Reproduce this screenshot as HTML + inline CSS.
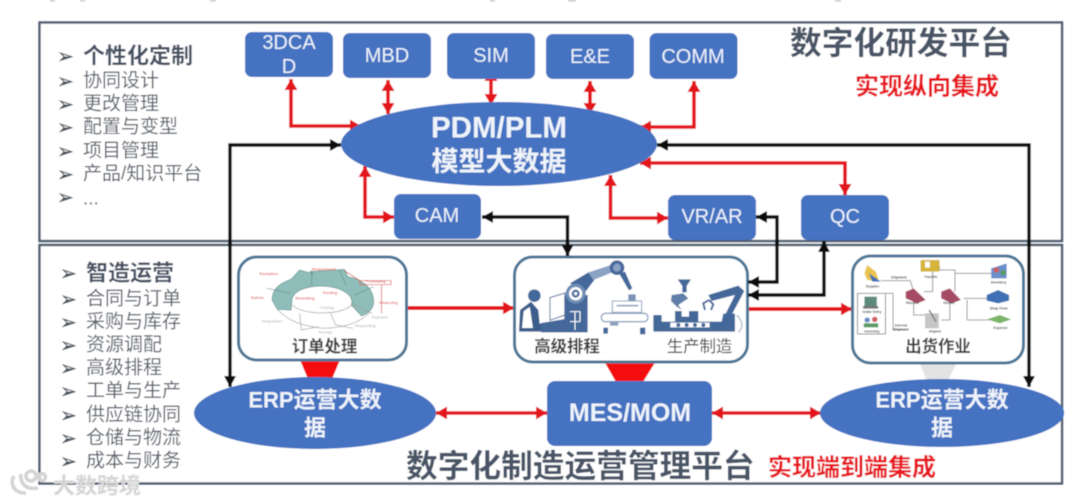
<!DOCTYPE html>
<html lang="zh">
<head>
<meta charset="utf-8">
<title>数字化研发平台与数字化制造运营管理平台</title>
<style>
html,body{margin:0;padding:0;background:#fff;width:1080px;height:504px;overflow:hidden}
svg{display:block;position:absolute;left:0;top:0}
text{font-family:"Liberation Sans","Noto Sans CJK SC",sans-serif;dominant-baseline:central;transform:translateY(1px)}
.m{text-anchor:middle}
.n{font-size:20px;fill:#eaf1fa;text-anchor:middle}
.b{font-weight:700}
.li{font-size:19px;fill:#5a616b}
.h{font-size:22px;font-weight:700;fill:#465163}
.bu{font-family:"DejaVu Sans",sans-serif;font-size:20px;fill:#4c535d;stroke:#4c535d;stroke-width:.4}
.t{font-size:31.7px;font-weight:700;fill:#495466}
.r{font-size:24px;font-weight:700;fill:#e8141c}
.p{font-size:16.4px;font-weight:700;fill:#3d3d3d;text-anchor:middle}
.w{font-weight:700;fill:#eef3fa;text-anchor:middle}
.re{fill:none;stroke:#e3141c;stroke-width:3.6;marker-start:url(#ra);marker-end:url(#ra)}
.ro{fill:none;stroke:#e3141c;stroke-width:4;marker-end:url(#ra)}
.bk{fill:none;stroke:#0c0c0c;stroke-width:3.4;marker-start:url(#ba);marker-end:url(#ba)}
.tiny{font-size:10px;font-weight:700;fill:#444;text-anchor:middle}
.tr{font-size:12px;fill:#d8342f;text-anchor:middle}
.tg{font-size:12px;fill:#aaa;text-anchor:middle}
</style>
</head>
<body>
<svg width="1080" height="504" viewBox="0 0 1080 504" xmlns="http://www.w3.org/2000/svg">
<defs>
<marker id="ra" markerUnits="userSpaceOnUse" markerWidth="14" markerHeight="14" refX="11" refY="7" orient="auto-start-reverse"><path d="M0 .5L11 7L0 13.5Z" fill="#e3141c"/></marker>
<marker id="ba" markerUnits="userSpaceOnUse" markerWidth="14" markerHeight="14" refX="11" refY="7" orient="auto-start-reverse"><path d="M0 1L11 7L0 13Z" fill="#0c0c0c"/></marker>
<filter id="soft" x="-2%" y="-2%" width="104%" height="104%"><feGaussianBlur stdDeviation=".45"/></filter>
</defs>
<g filter="url(#soft)">
<!-- faint clipped text at the top -->
<g fill="#c9c9c9"><rect x="50" y="0" width="5" height="1.5"/><rect x="80" y="0" width="5" height="1.5"/><rect x="210" y="0" width="6" height="1.5"/><rect x="490" y="0" width="5" height="1.5"/><rect x="568" y="0" width="8" height="1.5"/><rect x="835" y="0" width="6" height="1.5"/></g>

<!-- frames -->
<rect x="39.5" y="22.5" width="1022.5" height="218.5" fill="#fff" stroke="#505d70" stroke-width="2.4"/>
<rect x="39.5" y="245" width="1022.5" height="238.5" fill="#fff" stroke="#505d70" stroke-width="2.4"/>

<!-- top list -->
<text class="bu" x="57" y="55">➢</text><text class="h" x="83" y="55">个性化定制</text>
<text class="bu" x="57" y="80">➢</text><text class="li" x="83" y="80">协同设计</text>
<text class="bu" x="57" y="103">➢</text><text class="li" x="83" y="103">更改管理</text>
<text class="bu" x="57" y="126">➢</text><text class="li" x="83" y="126">配置与变型</text>
<text class="bu" x="57" y="150">➢</text><text class="li" x="83" y="150">项目管理</text>
<text class="bu" x="57" y="173">➢</text><text class="li" x="83" y="173">产品/知识平台</text>
<text class="bu" x="57" y="196">➢</text><text class="li" x="83" y="198">...</text>

<!-- bottom list -->
<text class="bu" x="60" y="272">➢</text><text class="h" x="86" y="272">智造运营</text>
<text class="bu" x="60" y="298">➢</text><text class="li" x="86" y="298">合同与订单</text>
<text class="bu" x="60" y="321">➢</text><text class="li" x="86" y="321">采购与库存</text>
<text class="bu" x="60" y="344">➢</text><text class="li" x="86" y="344">资源调配</text>
<text class="bu" x="60" y="367">➢</text><text class="li" x="86" y="367">高级排程</text>
<text class="bu" x="60" y="390">➢</text><text class="li" x="86" y="390">工单与生产</text>
<text class="bu" x="60" y="414">➢</text><text class="li" x="86" y="414">供应链协同</text>
<text class="bu" x="60" y="437">➢</text><text class="li" x="86" y="437">仓储与物流</text>
<text class="bu" x="60" y="460">➢</text><text class="li" x="86" y="460">成本与财务</text>

<!-- titles -->
<text class="t" x="790" y="42">数字化研发平台</text>
<text class="r" x="855" y="86">实现纵向集成</text>
<text class="t" x="406" y="465">数字化制造运营管理平台</text>
<text class="r" x="768" y="467">实现端到端集成</text>

<!-- funnels -->
<polygon points="300,360 340,360 332,379 308,379" fill="#f40a0e"/>
<polygon points="604,361 656,361 643,382 616,382" fill="#f40a0e"/>
<polygon points="919,362 957,362 948,381 927,381" fill="#e3e3e3"/>

<!-- red connectors -->
<path class="re" d="M291 79V126H361"/>
<path class="re" d="M388 80V114"/>
<path class="re" d="M491 70V105"/>
<path class="re" d="M590 81V114"/>
<path class="re" d="M694 81V127H640"/>
<path class="re" d="M365 166V217H394"/>
<path class="re" d="M610.5 175V218H668"/>
<path class="re" d="M640 163H845V195"/>
<path class="ro" d="M407 308H514"/>
<path class="ro" d="M748 309H852"/>
<path class="re" d="M436 413H547"/>
<path class="re" d="M712 413H821"/>

<!-- nodes -->
<g fill="#4472c1">
<rect x="245" y="32" width="88" height="45" rx="7"/>
<rect x="343" y="33" width="88" height="45" rx="7"/>
<rect x="447" y="33" width="88" height="46" rx="7"/>
<rect x="546" y="34" width="88" height="45" rx="7"/>
<rect x="649.5" y="33" width="88" height="46" rx="7"/>
<rect x="394" y="194" width="87" height="45" rx="7"/>
<rect x="668" y="195" width="88" height="45" rx="7"/>
<rect x="801" y="195" width="88" height="45" rx="7"/>
<ellipse cx="499" cy="144" rx="158" ry="42"/>
<ellipse cx="315" cy="413" rx="121" ry="36"/>
<rect x="547" y="381" width="165" height="65" rx="8"/>
<ellipse cx="942" cy="413" rx="122" ry="34"/>
</g>
<text class="n" x="289" y="42">3DCA</text><text class="n" x="289" y="66">D</text>
<text class="n" x="387" y="55">MBD</text>
<text class="n" x="491" y="55">SIM</text>
<text class="n" x="590" y="56">E&amp;E</text>
<text class="n" x="693" y="56">COMM</text>
<text class="n" x="437" y="215">CAM</text>
<text class="n" x="712" y="216">VR/AR</text>
<text class="n" x="845" y="216">QC</text>
<text class="w" x="499" y="127" font-size="29.5">PDM/PLM</text>
<text class="w" x="499" y="161" font-size="27">模型大数据</text>
<text class="w" x="315" y="399" font-size="22">ERP运营大数</text>
<text class="w" x="315" y="427" font-size="22">据</text>
<text class="w" x="630" y="412" font-size="25">MES/MOM</text>
<text class="w" x="942" y="399" font-size="22">ERP运营大数</text>
<text class="w" x="942" y="427" font-size="22">据</text>

<!-- panels -->
<g fill="#fff" stroke="#4b7696" stroke-width="3">
<rect x="238.5" y="257" width="168" height="103" rx="18"/>
<rect x="514.5" y="257" width="233" height="105" rx="18"/>
<rect x="852.5" y="256" width="171" height="107" rx="18"/>
</g>

<!-- order cycle illustration -->
<g transform="translate(0,250) scale(.3444,.3333)">
<path d="M790 150C790 115 815 98 845 88L870 60L910 72L900 65L1000 58L1010 80C1060 90 1085 120 1085 155C1085 175 1070 190 1050 198L1020 165C1030 135 990 110 935 108C885 108 850 125 848 150L845 180L805 178Z" fill="#8fbdb9" stroke="#5f8f8c" stroke-width="2"/>
<path d="M905 60L905 105M985 60L1005 105M1085 110L1030 135M775 115L845 130" fill="none" stroke="#5f8f8c" stroke-width="2"/>
<path d="M805 178C830 205 860 225 935 235C1000 235 1050 215 1072 188M870 190L875 240L925 230M960 190L975 225L1025 235M1020 160L1080 190M850 165C870 195 1000 200 1025 160" fill="none" stroke="#9a9a9a" stroke-width="2"/>
<path d="M1000 62L1045 92H1135V104H1045V92M1108 104V190" fill="none" stroke="#d8342f" stroke-width="2"/>
<text class="tr" x="780" y="70">Reception</text>
<text class="tr" x="940" y="56">Requirement</text>
<text class="tr" x="748" y="142">Refiner</text>
<text class="tr" x="885" y="143">Reworking</text>
<text class="tr" x="958" y="126">Routing</text>
<text class="tr" x="1128" y="156">Reserving</text>
<text class="tr" x="1090" y="92">Processing</text>
<text class="tg" x="790" y="212">Requisition</text>
<text class="tg" x="950" y="172">Picking</text>
<text class="tg" x="1060" y="226">Requesting</text>
<text class="tg" x="945" y="245">Receipt</text>
<text class="tg" x="1103" y="200">Payment</text>
</g>
<text class="p" x="324.5" y="346">订单处理</text>

<!-- robot illustration -->
<g transform="translate(505,215) scale(.3333)" fill="#45689a">
<circle cx="88" cy="242" r="19"/>
<path d="M45 285L78 260L100 285L104 326H130V350H42Z" fill="#3c5d8c"/>
<path d="M55 288L75 274L85 340H50Z" fill="#fff" stroke="#3c5d8c" stroke-width="2"/>
<path d="M135 248L180 234V300L135 316Z" fill="#fff" stroke="#45689a" stroke-width="3"/>
<path d="M108 324L180 312V352H108Z"/>
<path d="M178 240H248V352H178Z"/>
<path d="M195 205L250 172L268 195L240 232Z"/>
<path d="M250 172L318 150L322 172L265 195Z" fill="#8aa3c4"/>
<circle cx="212" cy="236" r="30" fill="#6d8db5"/><circle cx="212" cy="236" r="20" fill="#fff"/><circle cx="212" cy="236" r="12" fill="#45689a"/><circle cx="212" cy="236" r="5" fill="#fff"/>
<circle cx="336" cy="158" r="22"/><circle cx="336" cy="158" r="12" fill="#8aa3c4"/>
<path d="M342 175L360 170L382 220L372 226Z"/>
<path d="M370 238H392V262H370Z" fill="#7d93b3"/>
<path d="M195 290H225V320M195 320H225M210 290V345" fill="none" stroke="#fff" stroke-width="3"/>
<path d="M322 258H410V292H322Z" fill="#fff" stroke="#8ba0bd" stroke-width="3"/>
<path d="M335 272H400" stroke="#8ba0bd" stroke-width="5"/>
<rect x="289" y="295" width="140" height="25" rx="12" fill="#fff" stroke="#8ba0bd" stroke-width="4"/>
<rect x="295" y="338" width="14" height="18"/><rect x="405" y="338" width="16" height="20"/><rect x="315" y="322" width="25" height="10" fill="#8ba0bd"/>
<path d="M518 193H558L545 213V232H532V213Z"/>
<path d="M500 240L535 235L550 250L520 270L530 285L515 275L498 258Z" fill="#5f7ea8"/>
<path d="M445 300H470V320H510V288H530V305H552V288H580V320H650L655 296H690V350H445Z"/>
<path d="M495 322H615V338H495Z" fill="#fff" stroke="#45689a" stroke-width="2"/>
<circle cx="520" cy="330" r="6"/><circle cx="545" cy="330" r="6"/><circle cx="570" cy="330" r="6"/><circle cx="595" cy="330" r="6"/>
<path d="M610 240L700 212L718 228L680 300L660 300L690 240L620 258Z"/>
<path d="M612 255L595 265L600 285M612 255L625 268L618 285" fill="none" stroke="#45689a" stroke-width="6"/>
<path d="M695 300C715 320 715 340 700 352" fill="none" stroke="#8ba0bd" stroke-width="3"/>
</g>
<text class="p" x="567" y="346">高级排程</text>
<text class="p" x="699.5" y="346" style="font-weight:400">生产制造</text>

<!-- shipping illustration -->
<g transform="translate(540,250) scale(.3444,.3333)">
<path d="M990 92H1075L1085 125M1005 130H1025V240H1065M1085 150V195H1120M1115 125H1140V50H1160V60H1205V125M1205 70H1310M1190 150V210H1165M1240 150V210H1305M1205 115V70M1230 145H1300" fill="none" stroke="#9a9a9a" stroke-width="3"/>
<rect x="922" y="130" width="81" height="122" fill="#fff" stroke="#555" stroke-width="2"/>
<path d="M950 45L975 65L985 95L950 90L942 70Z" fill="#e9c34c"/><path d="M955 70L990 95L965 95Z" fill="#3f6fb5"/>
<path d="M1105 30H1160V65H1105Z" fill="#d6b43a"/><rect x="1118" y="35" width="14" height="18" fill="#fff"/>
<path d="M1310 55L1355 40V85L1310 85Z" fill="#6a8fc9"/><circle cx="1325" cy="60" r="8" fill="#d05d5d"/><circle cx="1345" cy="68" r="8" fill="#5a9a64"/>
<path d="M1062 125L1085 115L1120 150L1095 160L1062 145Z" fill="#a54c63"/><path d="M1165 125L1190 115L1222 150L1195 160L1165 145Z" fill="#a54c63"/>
<rect x="1118" y="190" width="40" height="45" fill="#c6c6c6"/><path d="M1130 180L1150 215" stroke="#777" stroke-width="4"/>
<path d="M1297 135L1330 120L1362 135V152L1330 160L1297 152Z" fill="#3f6fb5"/>
<path d="M1298 208L1335 195L1368 208L1335 220Z" fill="#7ab56b"/>
<rect x="942" y="140" width="36" height="28" fill="#5d8a7a"/><rect x="938" y="168" width="44" height="8" fill="#777"/>
<circle cx="950" cy="210" r="8" fill="#6a8fc9"/><circle cx="972" cy="208" r="8" fill="#d05d5d"/><rect x="940" y="220" width="42" height="12" fill="#5a9a64"/>
<text class="tiny" x="966" y="108">Supplier</text>
<text class="tiny" x="1042" y="82">Shipment</text>
<text class="tiny" x="1135" y="80">Transfer</text>
<text class="tiny" x="1332" y="96">Inventory</text>
<text class="tiny" x="1082" y="158">Receive</text>
<text class="tiny" x="1188" y="158">Deliver</text>
<text class="tiny" x="1332" y="174">Shop Floor</text>
<text class="tiny" x="1337" y="233">Expense</text>
<text class="tiny" x="964" y="185">Order Entry</text>
<text class="tiny" x="964" y="244">Inventory</text>
<text class="tiny" x="1048" y="226">Internal</text>
<text class="tiny" x="1048" y="238">Shipment</text>
<text class="tiny" x="1147" y="244">Inspect</text>
</g>
<text class="p" x="938" y="346">出货作业</text>

<!-- black connectors -->
<path class="bk" d="M341 145H230V387"/>
<path class="bk" d="M482 217H567.5V256"/>
<path class="bk" d="M756 217H777V282H748"/>
<path class="bk" d="M824 241V295H748"/>
<path class="bk" d="M657 145H1029V387"/>

<!-- watermark -->
<g fill="none" stroke="#d4d4d4" stroke-width="3.5">
<path d="M14 476C9 484 15 494 26 493"/><path d="M21 474C20 484 26 490 38 488"/>
<circle cx="31" cy="476" r="5"/><circle cx="42" cy="477" r="3.5"/>
</g>
<text x="53" y="485" font-size="22" font-weight="700" fill="#d2d2d2" stroke="#ececec" stroke-width=".6">大数跨境</text>
</g>
</svg>
</body>
</html>
